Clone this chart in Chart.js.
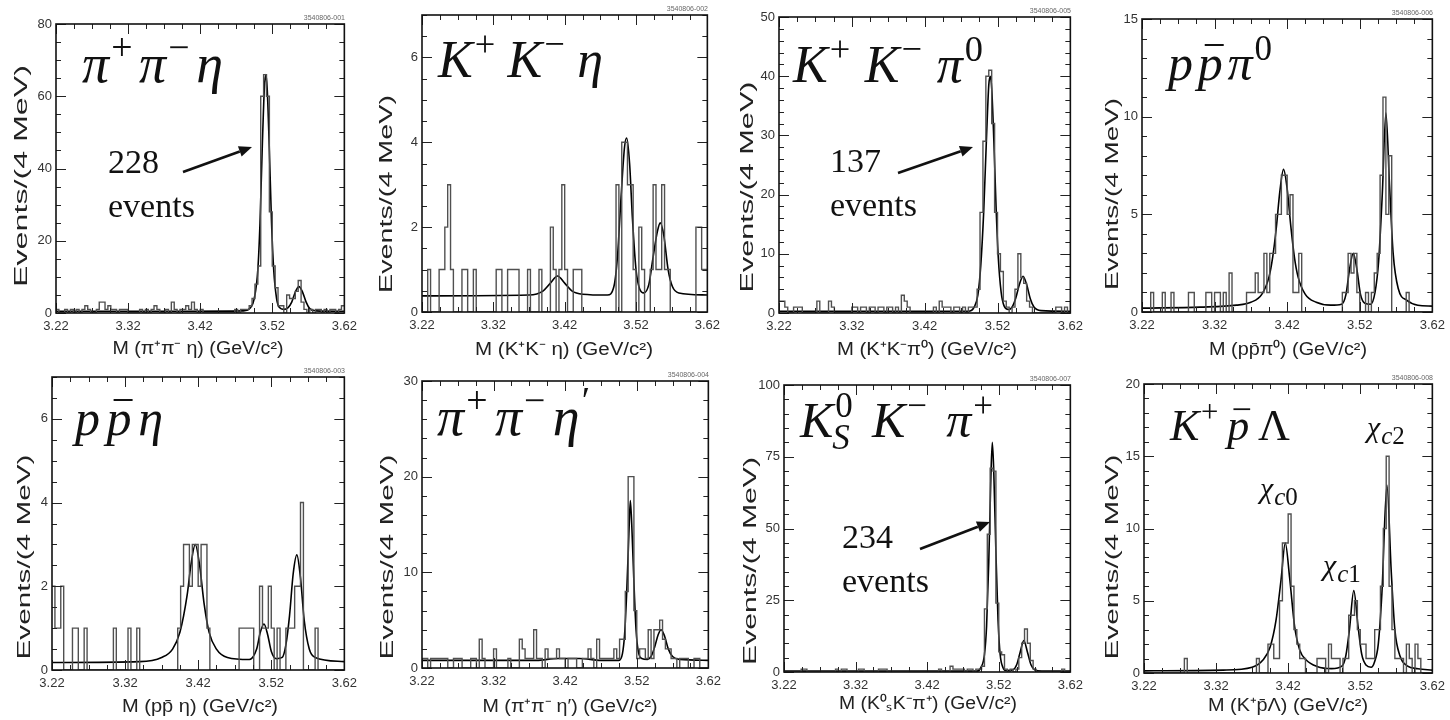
<!DOCTYPE html>
<html>
<head>
<meta charset="utf-8">
<script src="https://cdn.jsdelivr.net/npm/chart.js@4"></script>
<style>
  body { margin: 0; background: #fff; overflow: hidden; }
  #wrap { position: relative; width: 1450px; height: 720px; }
  canvas { position: absolute; }
</style>
</head>
<body>
<div id="wrap"></div>
<script>
// mass axis: 100 bins of 4 MeV
const massMin = 3.22, massMax = 3.62, binWidth = 0.004;
const massTicks = [3.22, 3.32, 3.42, 3.52, 3.62];

// pi+ pi- eta
const histPipiEta = [1,0,0,1,0,1,0,1,0,1, 2,1,0,0,1,3,3,1,2,1, 1,0,1,1,1,0,0,0,0,1, 0,1,0,1,2,1,0,0,1,0,
  3,1,0,1,1,2,1,3,1,0, 1,0,0,0,0,0,0,0,0,0, 0,0,1,0,1,1,1,2,4,8, 13,60,66,60,28,13,7,2,2,0,
  5,4,4,6,9,3,1,0,1,0, 1,1,0,1,0,1,1,0,1,2];
const fitPipiEta = [[3.22,0.5],[3.40,0.5],[3.48,0.6],[3.49,1.5],[3.495,4],[3.50,12],[3.503,25],[3.506,45],[3.509,62],
  [3.511,66],[3.513,62],[3.516,45],[3.519,25],[3.522,12],[3.526,4],[3.53,1.5],[3.536,1],[3.542,1.5],[3.547,3],
  [3.552,5.8],[3.557,7.3],[3.562,5.8],[3.567,3],[3.572,1.2],[3.58,0.6],[3.62,0.5]];
const yTicksPipiEta = [0, 20, 40, 60, 80];

// K+ K- eta
const histKKEta = [0,0,1,0,0,0,1,1,2,3, 1,0,0,0,1,1,0,0,1,0, 0,0,0,0,0,0,1,1,0,0, 1,1,1,1,0,0,0,1,0,0,
  0,1,0,0,0,2,1,0,1,3, 1,0,0,1,1,1,0,0,0,0, 0,0,0,0,0,0,0,0,3,0, 4,4,3,3,1,0,2,1,0,0,
  1,3,1,1,3,1,1,0,0,0, 0,0,0,0,0,0,2,2,1,1];
const fitKKEta = [[3.22,0.38],[3.37,0.4],[3.39,0.5],[3.40,0.68],[3.41,0.85],[3.42,0.68],[3.43,0.5],[3.445,0.42],
  [3.48,0.4],[3.489,0.6],[3.494,1.3],[3.499,2.7],[3.504,3.9],[3.507,4.1],[3.511,3.5],[3.515,2.2],[3.52,1.0],
  [3.525,0.55],[3.531,0.45],[3.538,0.65],[3.544,1.3],[3.55,1.9],[3.554,2.1],[3.559,1.8],[3.565,1.0],[3.571,0.6],
  [3.58,0.45],[3.62,0.4]];
const yTicksKKEta = [0, 2, 4, 6];

// K+ K- pi0
const histKKPi0 = [2,2,1,0,0,1,1,1,0,0, 0,0,0,2,0,0,0,2,1,0, 0,0,0,0,0,1,1,0,1,1, 0,1,1,0,1,1,0,1,1,0,
  1,0,3,2,1,0,0,0,0,0, 0,0,0,1,0,2,1,1,1,0, 1,1,0,1,0,1,1,1,4,17, 29,40,41,32,17,10,7,2,1,0,
  1,4,10,6,5,2,1,0,0,0, 0,0,0,0,0,1,1,0,1,0];
const fitKKPi0 = [[3.22,0.3],[3.48,0.3],[3.488,1],[3.493,3],[3.497,8],[3.501,17],[3.505,30],[3.508,38.5],[3.51,40],
  [3.512,38],[3.515,29],[3.518,18],[3.521,9.5],[3.525,3.5],[3.529,1.2],[3.535,0.6],[3.54,1],[3.545,2.5],
  [3.55,4.8],[3.555,6.2],[3.56,4.8],[3.565,2.4],[3.57,1],[3.58,0.4],[3.62,0.3]];
const yTicksKKPi0 = [0, 10, 20, 30, 40, 50];

// p pbar pi0
const histPPbarPi0 = [0,0,0,1,0,0,0,1,0,0, 1,0,0,0,0,0,1,1,0,0, 0,0,1,1,0,1,1,0,1,0, 2,0,0,0,0,0,1,1,1,2,
  1,1,3,1,3,3,5,5,7,7, 5,6,1,1,3,0,0,0,0,0, 0,0,0,0,0,0,0,0,0,1, 1,3,2,3,1,0,0,1,0,1,
  2,3,7,11,5,8,0,0,0,0, 0,1,0,0,0,0,0,0,0,0];
const fitPPbarPi0 = [[3.22,0.2],[3.30,0.25],[3.35,0.35],[3.37,0.5],[3.385,0.9],[3.395,1.8],[3.40,2.8],[3.405,4.3],
  [3.41,6.2],[3.415,7.3],[3.42,6.3],[3.425,4.4],[3.43,2.8],[3.435,1.8],[3.445,0.9],[3.46,0.5],[3.48,0.35],
  [3.495,0.4],[3.501,0.9],[3.506,2.2],[3.511,3.0],[3.516,2.2],[3.521,0.9],[3.527,0.45],[3.535,0.4],[3.541,1.0],
  [3.546,2.6],[3.551,6],[3.556,10.2],[3.561,6.5],[3.566,3],[3.573,1.2],[3.585,0.6],[3.60,0.35],[3.62,0.3]];
const yTicksPPbarPi0 = [0, 5, 10, 15];

// p pbar eta
const histPPbarEta = [2,1,1,2,0,0,0,1,1,0, 0,1,0,0,0,0,0,0,0,0, 0,1,0,0,0,0,1,0,0,1, 0,0,0,0,0,0,0,0,0,0,
  0,0,0,1,2,3,3,2,3,3, 2,3,3,1,0,0,0,0,0,0, 0,0,0,0,1,1,1,1,1,0, 0,2,1,1,2,1,0,1,0,0,
  1,1,1,2,2,4,0,0,0,0, 1,0,0,0,0,0,0,0,0,0];
const fitPPbarEta = [[3.22,0.18],[3.34,0.2],[3.37,0.3],[3.385,0.5],[3.395,0.9],[3.405,1.8],[3.41,2.5],[3.416,3.0],
  [3.422,2.5],[3.428,1.6],[3.435,0.9],[3.445,0.5],[3.46,0.3],[3.49,0.25],[3.50,0.5],[3.505,0.9],[3.51,1.1],
  [3.515,0.85],[3.52,0.45],[3.527,0.27],[3.535,0.3],[3.54,0.6],[3.545,1.3],[3.55,2.3],[3.555,2.75],[3.56,2.2],
  [3.565,1.2],[3.572,0.5],[3.58,0.3],[3.62,0.2]];
const yTicksPPbarEta = [0, 2, 4, 6];

// pi+ pi- eta'
const histPipiEtap = [1,1,0,1,1,1,1,1,1,0, 0,1,1,1,0,0,0,1,1,0, 3,1,0,0,0,2,0,0,0,0, 1,0,0,0,3,2,1,1,1,4,
  1,1,0,2,1,1,1,2,1,1, 0,1,1,1,0,0,1,1,2,1, 0,3,1,1,1,1,1,2,1,3, 3,8,20,20,6,1,2,2,1,4,
  1,4,4,5,3,2,2,1,1,0, 1,1,1,0,0,1,1,0,0,0];
const fitPipiEtap = [[3.22,0.8],[3.38,0.8],[3.41,1.0],[3.44,1.0],[3.47,0.8],[3.495,0.8],[3.50,1.5],[3.503,3.5],
  [3.506,8],[3.509,14],[3.511,17.5],[3.513,15],[3.516,9],[3.519,4],[3.522,1.8],[3.527,1.0],[3.535,0.9],
  [3.54,1.2],[3.545,2.2],[3.55,3.5],[3.554,4.0],[3.559,3.3],[3.564,2],[3.57,1.2],[3.58,0.9],[3.62,0.8]];
const yTicksPipiEtap = [0, 10, 20, 30];

// K0s K- pi+
const histKsKPi = [0,0,0,0,0,0,1,1,0,0, 0,0,0,0,0,0,0,0,1,0, 1,1,0,0,0,0,1,1,0,0, 0,0,0,1,1,1,0,0,0,0,
  0,0,0,0,0,0,0,0,0,0, 0,0,0,0,1,0,0,0,2,1, 1,1,1,0,1,1,0,1,1,2, 22,48,71,70,24,7,6,1,0,1,
  0,1,5,10,15,10,4,1,0,0, 0,0,0,0,0,0,0,1,0,0];
const fitKsKPi = [[3.22,0.3],[3.49,0.3],[3.495,1.5],[3.50,6],[3.503,16],[3.506,38],[3.509,68],[3.511,80],[3.513,70],
  [3.516,42],[3.519,18],[3.522,6],[3.526,1.5],[3.53,0.5],[3.54,0.8],[3.545,2.5],[3.55,7],[3.555,11],[3.56,7],
  [3.565,2.5],[3.57,0.8],[3.58,0.3],[3.62,0.3]];
const yTicksKsKPi = [0, 25, 50, 75, 100];

// K+ pbar Lambda
const histKPbarLambda = [0,0,0,0,0,0,0,0,0,0, 0,0,0,0,1,0,0,0,0,0, 0,0,0,0,0,0,0,0,0,0, 0,0,0,0,0,0,0,0,0,1,
  0,0,0,2,2,1,1,5,9,9, 11,6,3,2,1,1,0,0,0,0, 1,1,1,0,2,1,1,1,0,1, 1,4,4,5,3,2,2,1,1,1,
  3,3,6,10,15,6,3,1,1,1, 0,2,1,0,2,1,0,0,0,0];
const fitKPbarLambda = [[3.22,0.15],[3.33,0.2],[3.37,0.4],[3.385,0.9],[3.395,1.8],[3.403,3.6],[3.41,6.4],[3.416,9.0],
  [3.422,6.6],[3.429,3.2],[3.436,1.6],[3.445,0.9],[3.46,0.45],[3.48,0.3],[3.495,0.5],[3.50,1.2],[3.505,3.0],
  [3.511,5.7],[3.517,3.2],[3.522,1.3],[3.528,0.55],[3.535,0.4],[3.54,0.8],[3.545,2],[3.55,5.5],[3.557,13],
  [3.563,7],[3.568,3],[3.575,1.2],[3.585,0.5],[3.60,0.3],[3.62,0.2]];
const yTicksKPbarLambda = [0, 5, 10, 15, 20];

const SERIF = '"Liberation Serif", "DejaVu Serif", serif';
const SANS = '"Liberation Sans", Arial, sans-serif';

// panel layout; frame = [left, top, right, bottom] of the plot box on the page
const panels = [
  { hist: histPipiEta, fit: fitPipiEta, yTicks: yTicksPipiEta, yMax: 80, yMinor: 5, frame: [56, 24, 347, 313], tag: '3540806-001',
    math: [['π','i'],['+','sup'],['π','i'],['−','sup'],['η','i']], mathAt: [82, 82, 141], mathSize: 54,
    xTitle: 'M (π⁺π⁻ η) (GeV/c²)', xTitleAt: [198, 349, 171], yTitleAt: [22, 176, 222],
    note: { n: '228', at: [108, 173], arrow: [183, 172, 252, 147] } },
  { hist: histKKEta, fit: fitKKEta, yTicks: yTicksKKEta, yMax: 7, yMinor: 0.5, frame: [422, 15, 710, 312], tag: '3540806-002',
    math: [['K','i'],['+','sup'],['K','i'],['−','sup'],['η','i']], mathAt: [438, 77, 165], mathSize: 52,
    xTitle: 'M (K⁺K⁻ η) (GeV/c²)', xTitleAt: [564, 350, 178], yTitleAt: [387, 194, 198] },
  { hist: histKKPi0, fit: fitKKPi0, yTicks: yTicksKKPi0, yMax: 50, yMinor: 2, frame: [779, 17, 1073, 313], tag: '3540806-005',
    math: [['K','i'],['+','sup'],['K','i'],['−','sup'],['π','i'],['0','sup']], mathAt: [793, 82, 190], mathSize: 52,
    xTitle: 'M (K⁺K⁻π⁰) (GeV/c²)', xTitleAt: [927, 350, 180], yTitleAt: [748, 187, 211],
    note: { n: '137', at: [830, 172], arrow: [898, 173, 973, 147] } },
  { hist: histPPbarPi0, fit: fitPPbarPi0, yTicks: yTicksPPbarPi0, yMax: 15, yMinor: 1, frame: [1142, 19, 1435, 312], tag: '3540806-006',
    math: [['p','i'],['p','bar'],['π','i'],['0','sup']], mathAt: [1168, 80, 104], mathSize: 50,
    xTitle: 'M (pp̄π⁰) (GeV/c²)', xTitleAt: [1288, 350, 158], yTitleAt: [1113, 194, 192] },
  { hist: histPPbarEta, fit: fitPPbarEta, yTicks: yTicksPPbarEta, yMax: 7, yMinor: 0.5, frame: [52, 377, 347, 670], tag: '3540806-003',
    math: [['p','i'],['p','bar'],['η','i']], mathAt: [75, 435, 88], mathSize: 50,
    xTitle: 'M (pp̄ η) (GeV/c²)', xTitleAt: [200, 707, 156], yTitleAt: [25, 557, 205] },
  { hist: histPipiEtap, fit: fitPipiEtap, yTicks: yTicksPipiEtap, yMax: 30, yMinor: 2, frame: [422, 381, 711, 668], tag: '3540806-004',
    math: [['π','i'],['+','sup'],['π','i'],['−','sup'],['η','i'],['′','sup']], mathAt: [437, 435, 153], mathSize: 54,
    xTitle: 'M (π⁺π⁻ η′) (GeV/c²)', xTitleAt: [570, 707, 175], yTitleAt: [388, 557, 205] },
  { hist: histKsKPi, fit: fitKsKPi, yTicks: yTicksKsKPi, yMax: 100, yMinor: 5, frame: [784, 385, 1073, 672], tag: '3540806-007',
    math: [['K','i'],['0|S','supsub'],['K','i'],['−','sup'],['π','i'],['+','sup']], mathAt: [800, 437, 193], mathSize: 50,
    xTitle: 'M (K⁰ₛK⁻π⁺) (GeV/c²)', xTitleAt: [928, 704, 178], yTitleAt: [751, 561, 208],
    note: { n: '234', at: [842, 548], arrow: [920, 549, 990, 522] } },
  { hist: histKPbarLambda, fit: fitKPbarLambda, yTicks: yTicksKPbarLambda, yMax: 20, yMinor: 1, frame: [1144, 384, 1435, 673], tag: '3540806-008',
    math: [['K','i'],['+','sup'],['p','bar'],['Λ','r']], mathAt: [1170, 440, 120], mathSize: 44,
    xTitle: 'M (K⁺p̄Λ) (GeV/c²)', xTitleAt: [1288, 706, 160], yTitleAt: [1113, 557, 205],
    chi: [['0', 1260, 505], ['1', 1323, 582], ['2', 1367, 444]] }
];

const padL = 60, padT = 20, padR = 16, padB = 56;

function line(ctx, x1, y1, x2, y2) {
  ctx.beginPath(); ctx.moveTo(x1, y1); ctx.lineTo(x2, y2); ctx.stroke();
}

function stretchedText(ctx, text, cx, cy, width, font, rotate) {
  ctx.save();
  ctx.font = font;
  const w = ctx.measureText(text).width;
  ctx.translate(cx, cy);
  if (rotate) ctx.rotate(-Math.PI / 2);
  ctx.scale(width / w, 1);
  ctx.textAlign = 'center';
  ctx.textBaseline = 'middle';
  ctx.fillText(text, 0, 0);
  ctx.restore();
}

function partWidth(ctx, part, size) {
  const [t, kind] = part;
  const small = size * 0.7;
  if (kind === 'sup') { ctx.font = `${small}px ${SERIF}`; return ctx.measureText(t).width; }
  if (kind === 'supsub') {
    const [a, b] = t.split('|');
    ctx.font = `${small}px ${SERIF}`; const wa = ctx.measureText(a).width;
    ctx.font = `italic ${small}px ${SERIF}`; const wb = ctx.measureText(b).width;
    return Math.max(wa, wb);
  }
  if (kind === 'r') { ctx.font = `${size}px ${SERIF}`; return ctx.measureText(t).width; }
  ctx.font = `italic ${size}px ${SERIF}`; return ctx.measureText(t).width;
}

// superscripts hug the glyph before them; the remaining width is spread before each new glyph
function drawMath(ctx, parts, x, y, target, size) {
  const widths = parts.map(p => partWidth(ctx, p, size));
  const isScript = p => p[1] === 'sup' || p[1] === 'supsub';
  const hug = size * 0.04;
  let natural = 0, slots = 0;
  parts.forEach((p, k) => {
    natural += widths[k];
    if (k > 0) { if (isScript(p)) natural += hug; else slots++; }
  });
  const gap = slots ? Math.max((target - natural) / slots, 0) : 0;
  let cx = x;
  const small = size * 0.7;
  parts.forEach((p, k) => {
    const [t, kind] = p;
    if (k > 0) cx += isScript(p) ? hug : gap;
    if (kind === 'sup') {
      ctx.font = `${small}px ${SERIF}`; ctx.fillText(t, cx, y - size * 0.4);
    } else if (kind === 'supsub') {
      const [a, b] = t.split('|');
      ctx.font = `${small}px ${SERIF}`; ctx.fillText(a, cx, y - size * 0.4);
      ctx.font = `italic ${small}px ${SERIF}`; ctx.fillText(b, cx - size * 0.06, y + size * 0.24);
    } else if (kind === 'r') {
      ctx.font = `${size}px ${SERIF}`; ctx.fillText(t, cx, y);
    } else {
      ctx.font = `italic ${size}px ${SERIF}`; ctx.fillText(t, cx, y);
      if (kind === 'bar') {
        ctx.lineWidth = size * 0.04;
        line(ctx, cx + size * 0.14, y - size * 0.7, cx + widths[k] + size * 0.02, y - size * 0.7);
      }
    }
    cx += widths[k];
  });
}

function arrow(ctx, x1, y1, x2, y2) {
  const ang = Math.atan2(y2 - y1, x2 - x1), hl = 13, hw = 5.5;
  const bx = x2 - hl * Math.cos(ang), by = y2 - hl * Math.sin(ang);
  ctx.lineWidth = 2.6;
  line(ctx, x1, y1, bx, by);
  ctx.beginPath();
  ctx.moveTo(x2, y2);
  ctx.lineTo(bx + hw * Math.sin(ang), by - hw * Math.cos(ang));
  ctx.lineTo(bx - hw * Math.sin(ang), by + hw * Math.cos(ang));
  ctx.closePath(); ctx.fill();
}

function decoPlugin(p, ox, oy) {
  return {
    id: 'deco',
    afterDraw(chart) {
      const ctx = chart.ctx, a = chart.chartArea, xs = chart.scales.x, ys = chart.scales.y;
      ctx.save();
      // inward ticks on all four sides
      ctx.strokeStyle = '#222'; ctx.lineWidth = 1;
      for (let k = 0; k <= 16; k++) {
        const px = Math.round(xs.getPixelForValue(massMin + k * 0.025)) + 0.5;
        const len = k % 4 === 0 ? 10 : 5;
        line(ctx, px, a.bottom, px, a.bottom - len);
        line(ctx, px, a.top, px, a.top + len);
      }
      const nMinor = Math.round(p.yMax / p.yMinor);
      const perMajor = Math.round((p.yTicks[1] - p.yTicks[0]) / p.yMinor);
      for (let k = 0; k <= nMinor; k++) {
        const py = Math.round(ys.getPixelForValue(k * p.yMinor)) + 0.5;
        const len = k % perMajor === 0 ? 10 : 5;
        line(ctx, a.left, py, a.left + len, py);
        line(ctx, a.right, py, a.right - len, py);
      }
      ctx.lineWidth = 1.6; ctx.strokeStyle = '#111';
      ctx.strokeRect(a.left, a.top, a.right - a.left, a.bottom - a.top);

      // text in page coordinates
      ctx.translate(-ox, -oy);
      ctx.fillStyle = '#111'; ctx.strokeStyle = '#111';
      ctx.textAlign = 'left'; ctx.textBaseline = 'alphabetic';
      drawMath(ctx, p.math, p.mathAt[0], p.mathAt[1], p.mathAt[2], p.mathSize);

      if (p.note) {
        ctx.font = `34px ${SERIF}`;
        ctx.fillText(p.note.n, p.note.at[0], p.note.at[1]);
        ctx.fillText('events', p.note.at[0], p.note.at[1] + 44);
        arrow(ctx, ...p.note.arrow);
      }
      if (p.chi) {
        p.chi.forEach(([d, x, y]) => {
          ctx.font = `italic 30px ${SERIF}`;
          ctx.fillText('χ', x, y - 7);
          const w = ctx.measureText('χ').width;
          ctx.font = `italic 25px ${SERIF}`;
          ctx.fillText('c', x + w + 1, y);
          const wc = ctx.measureText('c').width;
          ctx.font = `25px ${SERIF}`;
          ctx.fillText(d, x + w + wc + 1, y);
        });
      }
      ctx.fillStyle = '#222';
      stretchedText(ctx, p.xTitle, p.xTitleAt[0], p.xTitleAt[1], p.xTitleAt[2], `18px ${SANS}`, false);
      stretchedText(ctx, 'Events/(4 MeV)', p.yTitleAt[0], p.yTitleAt[1], p.yTitleAt[2], `19px ${SANS}`, true);

      ctx.fillStyle = '#666'; ctx.font = `7px ${SANS}`; ctx.textAlign = 'right';
      ctx.fillText(p.tag, p.frame[2] - 2, p.frame[1] - 4);
      ctx.restore();
    }
  };
}

const wrap = document.getElementById('wrap');
panels.forEach(p => {
  const [l, t, r, b] = p.frame;
  const ox = l - padL, oy = t - padT;
  const cv = document.createElement('canvas');
  cv.width = (r - l) + padL + padR;
  cv.height = (b - t) + padT + padB;
  cv.style.left = ox + 'px';
  cv.style.top = oy + 'px';
  wrap.appendChild(cv);

  const histPoints = p.hist.map((v, i) => ({ x: massMin + binWidth * i, y: v }));
  histPoints.push({ x: massMax, y: p.hist[p.hist.length - 1] });
  const fitPoints = p.fit.map(([x, y]) => ({ x, y }));

  new Chart(cv, {
    type: 'line',
    data: {
      datasets: [
        { data: histPoints, stepped: true, borderColor: '#505050', borderWidth: 1.4, pointRadius: 0, fill: false },
        { data: fitPoints, borderColor: '#000', borderWidth: 1.6, pointRadius: 0, fill: false, cubicInterpolationMode: 'monotone' }
      ]
    },
    options: {
      responsive: false, animation: false, devicePixelRatio: 1,
      layout: { padding: { left: 0, top: padT, right: padR, bottom: 0 } },
      plugins: { legend: { display: false }, tooltip: { enabled: false } },
      scales: {
        x: {
          type: 'linear', min: massMin, max: massMax,
          grid: { display: false, drawTicks: false }, border: { display: false },
          afterBuildTicks: s => { s.ticks = massTicks.map(v => ({ value: v })); },
          afterFit: s => { s.height = padB; },
          ticks: { padding: 6, color: '#333', font: { family: SANS, size: 13 }, maxRotation: 0, autoSkip: false,
                   callback: v => v.toFixed(2) }
        },
        y: {
          type: 'linear', min: 0, max: p.yMax,
          grid: { display: false, drawTicks: false }, border: { display: false },
          afterBuildTicks: s => { s.ticks = p.yTicks.map(v => ({ value: v })); },
          afterFit: s => { s.width = padL; },
          ticks: { padding: 4, color: '#333', font: { family: SANS, size: 13 }, callback: v => String(v) }
        }
      }
    },
    plugins: [decoPlugin(p, ox, oy)]
  });
});
</script>
</body>
</html>
